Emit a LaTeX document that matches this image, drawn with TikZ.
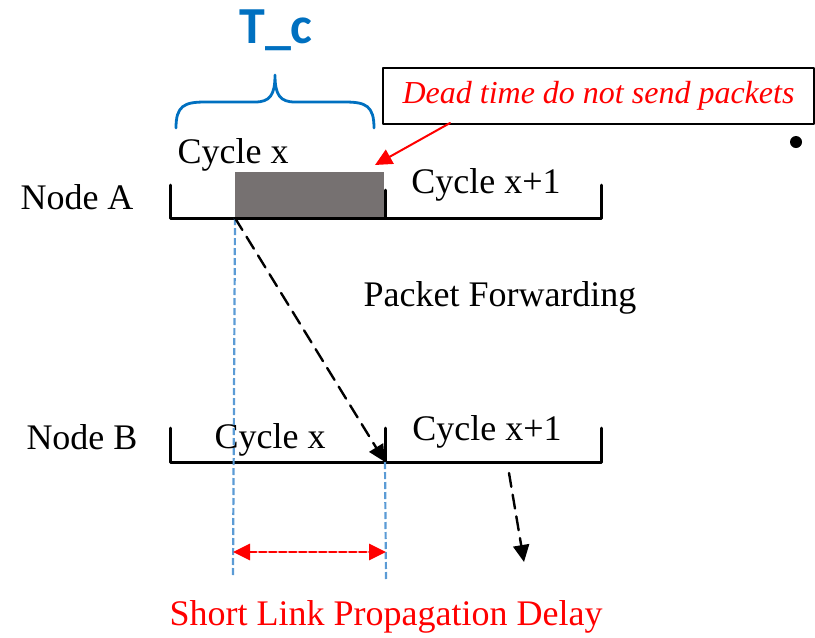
\documentclass[tikz,border=0pt]{standalone}
\usepackage{fontspec}
\setmainfont{Liberation Serif}
\newfontfamily\tcfont{Carlito}
\usetikzlibrary{arrows.meta}
\usetikzlibrary{positioning}
\definecolor{tcblue}{RGB}{0,112,192}
\definecolor{deadgray}{RGB}{118,113,113}
\definecolor{linkblue}{RGB}{91,155,213}
\begin{document}
\begin{tikzpicture}[line cap=round,line join=round,>={Triangle[length=8.5pt,width=8pt]},x=0.5pt,y=-0.5pt,
  lbl/.style={inner sep=0pt,font=\fontsize{18}{20}\selectfont},
  timeline/.style={line width=1.5pt,color=black},
  guide/.style={color=linkblue,line width=1.1pt,dash pattern=on 3.5pt off 1.5pt,line cap=butt}]
\useasboundingbox (0,0) rectangle (815,638);
\node[text=tcblue,font=\tcfont\bfseries\fontsize{26}{28}\selectfont] (tc) at (276,30) {T\_c};
\draw[tcblue,line width=1.4pt] (176,128) .. controls (176,106) and (184,102) .. (205,102) -- (255,102)
  .. controls (270,102) and (275,95) .. (275,75) .. controls (275,95) and (280,102) .. (295,102) -- (345,102)
  .. controls (366,102) and (374,106) .. (374,128);
\node[draw,line width=0.6pt,minimum width=215.5pt,minimum height=28pt,inner sep=0pt,text=red,font=\fontsize{16}{18}\selectfont\itshape] (dead) at (598.5,96) {Dead time do not send packets};
\fill[color=black] (796,142) circle (3pt);
\node[lbl] (nodeA) at (77,197) {Node A};
\node[lbl] (cycA) at (233,155) {Cycle x};
\node[fill=deadgray,minimum width=74.5pt,minimum height=23pt,inner sep=0pt,anchor=south west] (gray) at (235,218) {};
\node[lbl] (cycA1) at (486,185) {Cycle x+1};
\draw[timeline] (170,185) -- (170,218) -- (601,218) -- (601,185);
\draw[timeline] (385,190) -- (385,218);
\coordinate (rs) at (450,123);
\coordinate (rt) at (375,165);
\draw[->,color=red,line width=1pt] (rs) -- (rt);
\node[lbl] (fwd) at (500,298) {Packet Forwarding};
\node[lbl] (nodeB) at (82,437) {Node B};
\node[lbl] (cycB) at (270,440) {Cycle x};
\node[lbl] (cycB1) at (487,432) {Cycle x+1};
\draw[timeline] (170,428) -- (170,462) -- (601,462) -- (601,428);
\draw[timeline] (385,428) -- (385,462);
\coordinate (bRecv) at (385,462);
\coordinate (gL) at (233,575);
\coordinate (gR) at (386,580);
\draw[guide] (gray.south west) -- (gL);
\draw[guide] (bRecv) -- (gR);
\draw[->,line width=1.2pt,dash pattern=on 7pt off 4pt] (gray.south west) -- (bRecv);
\coordinate (n1) at (509,473);
\coordinate (n2) at (524,562);
\draw[->,line width=1.2pt,dash pattern=on 7pt off 4pt] (n1) -- (n2);
\coordinate (dL) at (233,552);
\coordinate (dR) at (386,552);
\draw[<->,color=red,line width=1.4pt,dash pattern=on 3.5pt off 1.5pt] (dL) -- (dR);
\node[lbl,text=red] (delay) at (386,617) {Short Link Propagation Delay};
\end{tikzpicture}
\end{document}
